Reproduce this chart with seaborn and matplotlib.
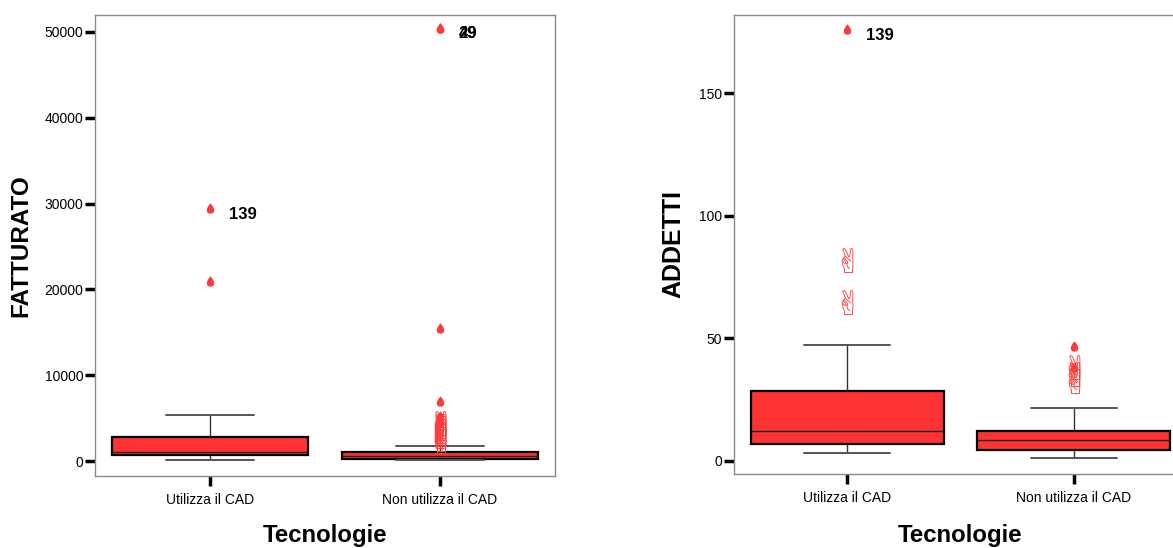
import numpy as np
import pandas as pd
import matplotlib
matplotlib.use("Agg")
import matplotlib.pyplot as plt
import seaborn as sns
from matplotlib.path import Path

# ---------------- data ----------------
categories = ["Utilizza il CAD", "Non utilizza il CAD"]

# five-number summaries (whisker low, Q1, median, Q3, whisker high)
fatt_summary_cad = [100, 700, 1050, 2800, 5350]
fatt_summary_non = [100, 230, 580, 1050, 1750]
fatt_extreme_cad = [29500, 21000]
fatt_extreme_cad_ids = ["139", ""]
fatt_outlier_cad = []
fatt_extreme_non = [50500, 50500, 15500, 7000, 5300, 5000, 4800, 4600]
fatt_extreme_non_ids = ["29", "49", "", "", "", "", "", ""]
fatt_outlier_non = [4400, 4100, 3800, 3500, 3200, 2900, 2600, 2300]
fatt_ticks = [0, 10000, 20000, 30000, 40000, 50000]

add_summary_cad = [3.3, 6.9, 12.2, 28.5, 47.3]
add_summary_non = [1.2, 4.5, 8.6, 12.2, 21.6]
add_extreme_cad = [176]
add_extreme_cad_ids = ["139"]
add_outlier_cad = [82, 65]
add_extreme_non = [47, 38.3]
add_extreme_non_ids = ["", ""]
add_outlier_non = [38.5, 35.5, 32.5]
add_ticks = [0, 50, 100, 150]

# ---------------- style ----------------
sns.set_theme(style="white")
plt.rcParams["font.family"] = ["Liberation Sans", "DejaVu Sans"]
plt.rcParams["mathtext.fontset"] = "dejavusans"
plt.rcParams["text.color"] = "black"
plt.rcParams["axes.labelcolor"] = "black"
plt.rcParams["xtick.color"] = "black"
plt.rcParams["ytick.color"] = "black"

BOX_RED = "#ff3333"
PT_RED = "#ff3a3a"

t = np.linspace(0, 2 * np.pi, 60)
drop_verts = np.column_stack([0.95 * np.sin(t) * np.sin(t / 2) ** 1.1, np.cos(t)])
drop_marker = Path(drop_verts, closed=True)
hand_marker = "$\u270C$"

fig = plt.figure(figsize=(11.73, 5.48), dpi=100)
ax1 = fig.add_axes([95 / 1173, 72 / 548, 460 / 1173, 461 / 548])
ax2 = fig.add_axes([734 / 1173, 74 / 548, 453 / 1173, 459 / 548])


def panel(ax, s_cad, s_non, ext_cad, ext_cad_ids, out_cad, ext_non, ext_non_ids,
          out_non, ticks, ylim, ylabel, ylab_x, ylab_size):
    df = pd.DataFrame({
        "cat": [categories[0]] * len(s_cad) + [categories[1]] * len(s_non),
        "val": list(s_cad) + list(s_non),
    })
    sns.boxplot(data=df, x="cat", y="val", order=categories, ax=ax,
                color=BOX_RED, saturation=1, width=0.85, showfliers=False,
                linecolor="black", linewidth=1.4, capwidths=0.38,
                boxprops=dict(edgecolor="black", linewidth=1.6, facecolor=BOX_RED),
                medianprops=dict(color="#222222", linewidth=1.0),
                whiskerprops=dict(color="#333333", linewidth=1.0),
                capprops=dict(color="#555555", linewidth=1.4))
    # mild outliers (hands)
    odf = pd.DataFrame({
        "cat": [categories[0]] * len(out_cad) + [categories[1]] * len(out_non),
        "val": list(out_cad) + list(out_non),
    })
    if len(odf):
        sns.stripplot(data=odf, x="cat", y="val", order=categories, ax=ax,
                      jitter=False, marker=hand_marker, size=18, color=PT_RED,
                      alpha=0.9, linewidth=0, zorder=4)
    # extremes (drops)
    edf = pd.DataFrame({
        "cat": [categories[0]] * len(ext_cad) + [categories[1]] * len(ext_non),
        "val": list(ext_cad) + list(ext_non),
    })
    sns.stripplot(data=edf, x="cat", y="val", order=categories, ax=ax,
                  jitter=False, marker=drop_marker, size=7.5, color=PT_RED,
                  linewidth=0, zorder=5)
    for i, (vals, ids) in enumerate([(ext_cad, ext_cad_ids), (ext_non, ext_non_ids)]):
        for v, lab in zip(vals, ids):
            if lab:
                ax.annotate(lab, xy=(i, v), xytext=(13.5, -4.5),
                            textcoords="offset points", ha="left", va="center",
                            fontsize=12, fontweight="bold", color="black")
    ax.set_xlim(-0.5, 1.5)
    ax.set_ylim(*ylim)
    ax.set_yticks(ticks)
    ax.set_yticklabels([str(v) for v in ticks])
    ax.tick_params(axis="y", direction="out", length=7, width=2.5, color="black",
                   labelsize=10, labelcolor="black", pad=1.5, left=True)
    ax.tick_params(axis="x", direction="out", length=7.5, width=2.5, color="black",
                   labelsize=10, labelcolor="black", pad=5, bottom=True)
    for sp in ax.spines.values():
        sp.set_color("#8a8a8a")
        sp.set_linewidth(1.0)
    ax.set_ylabel(ylabel, fontsize=ylab_size, fontweight="bold", color="black")
    ax.yaxis.set_label_coords(ylab_x, 0.5)
    ax.set_xlabel("Tecnologie", fontsize=17.3, fontweight="bold", color="black")
    ax.xaxis.set_label_coords(0.5, -0.105)


panel(ax1, fatt_summary_cad, fatt_summary_non, fatt_extreme_cad, fatt_extreme_cad_ids,
      fatt_outlier_cad, fatt_extreme_non, fatt_extreme_non_ids, fatt_outlier_non,
      fatt_ticks, (-1748, 51980), "FATTURATO", -0.137, 17.5)
panel(ax2, add_summary_cad, add_summary_non, add_extreme_cad, add_extreme_cad_ids,
      add_outlier_cad, add_extreme_non, add_extreme_non_ids, add_outlier_non,
      add_ticks, (-5.3, 181.8), "ADDETTI", -0.108, 18)
ax2.xaxis.set_label_coords(0.5, -0.108)

fig.savefig("out.png", dpi=100, facecolor="white")
